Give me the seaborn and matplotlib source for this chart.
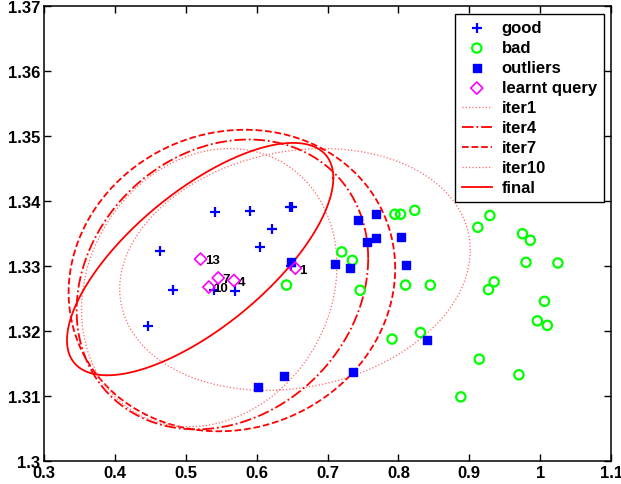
import numpy as np
import pandas as pd
import matplotlib
matplotlib.use("Agg")
import matplotlib.pyplot as plt
import seaborn as sns

# data
good_x = [0.446, 0.463, 0.482, 0.540, 0.541, 0.569, 0.591, 0.605, 0.622, 0.647, 0.650, 0.648]
good_y = [1.3208, 1.3324, 1.3264, 1.3264, 1.3383, 1.3262, 1.3385, 1.3330, 1.3357, 1.3391, 1.3391, 1.3301]

bad_x = [0.642, 0.720, 0.735, 0.746, 0.791, 0.795, 0.803, 0.810, 0.823, 0.831, 0.845, 0.888,
         0.912, 0.914, 0.927, 0.929, 0.935, 0.970, 0.975, 0.980, 0.986, 0.996, 1.006, 1.010, 1.025]
bad_y = [1.3271, 1.3322, 1.3309, 1.3263, 1.3188, 1.3380, 1.3380, 1.3271, 1.3386, 1.3198, 1.3271, 1.3099,
         1.3360, 1.3157, 1.3264, 1.3378, 1.3276, 1.3133, 1.3350, 1.3306, 1.3340, 1.3216, 1.3246, 1.3209, 1.3305]

out_x = [0.602, 0.639, 0.648, 0.711, 0.731, 0.736, 0.743, 0.756, 0.768, 0.769, 0.803, 0.811, 0.840]
out_y = [1.3114, 1.3131, 1.3307, 1.3304, 1.3298, 1.3138, 1.3371, 1.3338, 1.3344, 1.3380, 1.3345, 1.3302, 1.3186]

query_x = [0.6545, 0.5678, 0.5457, 0.5325, 0.5208]
query_y = [1.3297, 1.3278, 1.3282, 1.3268, 1.3311]
query_lbl = ["1", "4", "7", "10", "13"]

# ellipses: centre, half widths and shape (cos of phase)
ell_names = ["iter1", "iter4", "iter7", "iter10", "final"]
ell_cx = [0.654, 0.5516, 0.565, 0.533, 0.5202]
ell_cy = [1.3295, 1.3272, 1.3278, 1.3267, 1.3311]
ell_a = [0.2473, 0.2057, 0.2304, 0.1802, 0.1879]
ell_b = [0.0186, 0.0223, 0.0232, 0.0214, 0.01788]
ell_c = [0.16, 0.18, 0.08, 0.16, 0.698]
ell_ls = [":", "-.", "--", ":", "-"]

plt.rcParams['font.family'] = ['Liberation Sans', 'DejaVu Sans']
plt.rcParams['font.weight'] = 'bold'

fig, ax = plt.subplots(figsize=(6.21, 4.85), dpi=100)
fig.subplots_adjust(left=0.071, right=0.984, bottom=0.047, top=0.985)

sns.scatterplot(x=good_x, y=good_y, marker='+', color='blue', s=55, linewidth=1.6, label='good', ax=ax, zorder=3)
sns.scatterplot(x=bad_x, y=bad_y, marker='o', facecolors='none', edgecolor='lime', s=45, linewidth=1.6,
                label='bad', ax=ax, zorder=3)
sns.scatterplot(x=out_x, y=out_y, marker='s', color='blue', edgecolor='blue', s=38, linewidth=1,
                label='outliers', ax=ax, zorder=3)
sns.scatterplot(x=query_x, y=query_y, marker='D', facecolors='none', edgecolor='magenta', s=38, linewidth=1.2,
                label='learnt query', ax=ax, zorder=4)
for qx, qy, lb in zip(query_x, query_y, query_lbl):
    ax.annotate(lb, (qx, qy), xytext=(3, -1), textcoords='offset points', fontsize=9.5,
                fontweight='bold', ha='left', va='center')

t = np.linspace(0, 2 * np.pi, 300)
for name, cx, cy, a, b, c, ls in zip(ell_names, ell_cx, ell_cy, ell_a, ell_b, ell_c, ell_ls):
    d = np.arccos(c)
    df = pd.DataFrame({'x': cx + a * np.cos(t), 'y': cy + b * np.cos(t - d)})
    lw = 0.9 if ls == ':' else 1.3
    col = '#ff6666' if ls == ':' else 'red'
    sns.lineplot(data=df, x='x', y='y', sort=False, estimator=None, color=col, linestyle=ls,
                 linewidth=lw, label=name, ax=ax, zorder=2)

ax.set_xlim(0.3, 1.1)
ax.set_ylim(1.3, 1.37)
ax.set_xticks(np.arange(0.3, 1.11, 0.1))
ax.set_xticklabels(['0.3', '0.4', '0.5', '0.6', '0.7', '0.8', '0.9', '1', '1.1'], fontweight='bold')
ax.set_yticks(np.arange(1.3, 1.371, 0.01))
ax.set_yticklabels(['1.3', '1.31', '1.32', '1.33', '1.34', '1.35', '1.36', '1.37'], fontweight='bold')
ax.tick_params(direction='in', top=True, right=True, labelsize=12, length=5, width=1, pad=3)
for s in ax.spines.values():
    s.set_linewidth(1.1)
ax.set_xlabel('')
ax.set_ylabel('')

leg = ax.legend(loc='upper right', prop={'size': 12, 'weight': 'bold'}, frameon=True, fancybox=False,
                edgecolor='black', framealpha=1, labelspacing=0.3, handlelength=1.8, handletextpad=0.6,
                borderpad=0.4, borderaxespad=0.45)
leg.get_frame().set_linewidth(1)

fig.savefig('out.png', dpi=100)
